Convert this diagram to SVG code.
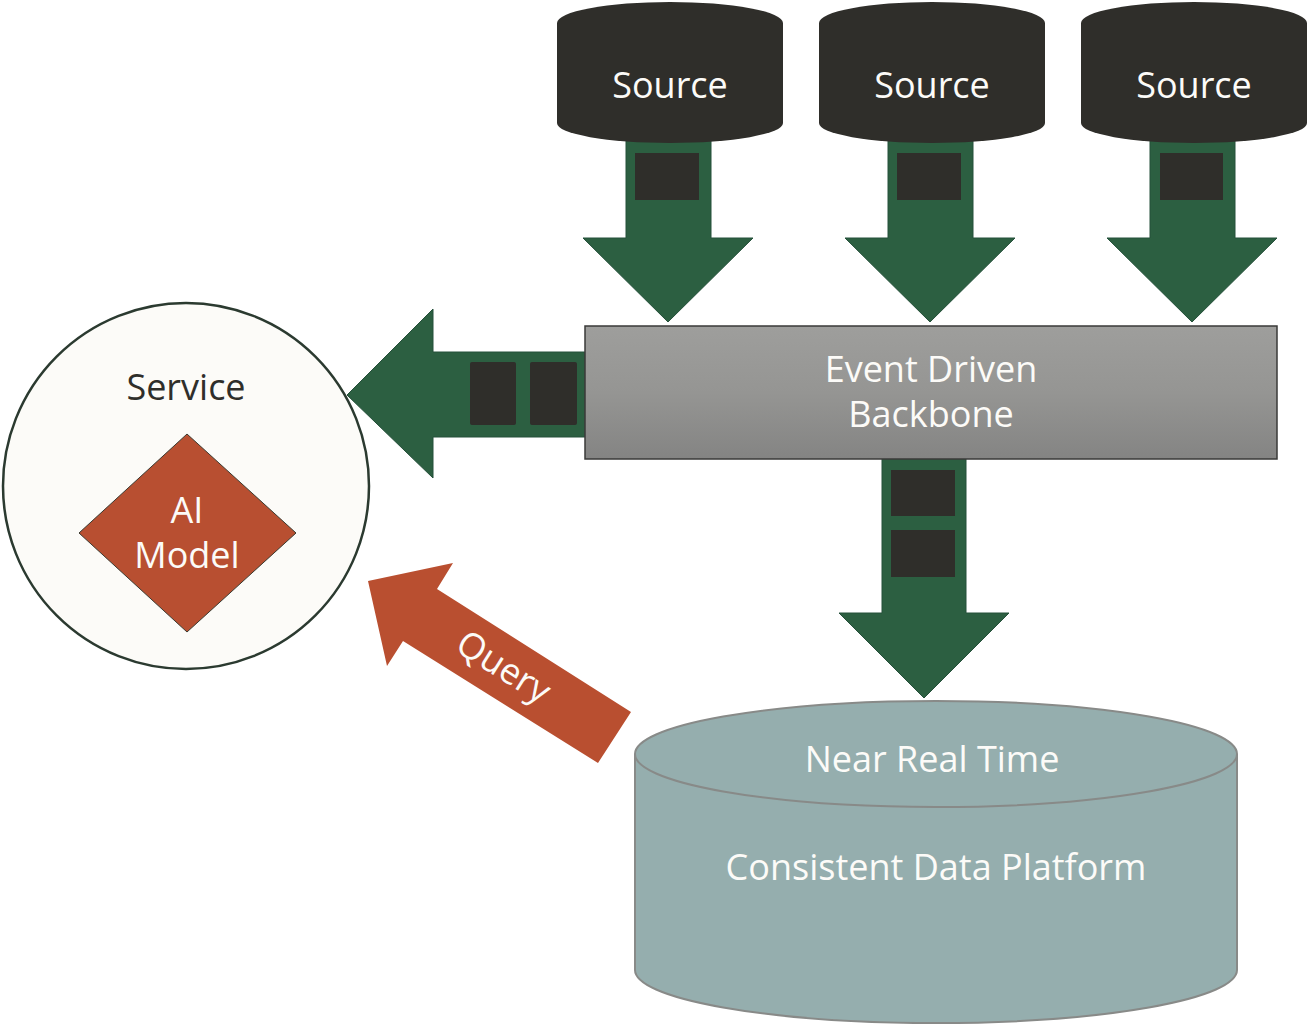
<svg xmlns="http://www.w3.org/2000/svg" width="1307" height="1024" viewBox="0 0 1307 1024">
  <style>
    .txt { font-family: "Open Sans", "Noto Sans", "Liberation Sans", sans-serif; font-size: 36px; text-anchor: middle; }
    .light { fill: #FCFBF8; }
    .dark { fill: #2F2E2A; }
    .arrow { fill: #2C5F41; stroke: #25503A; stroke-width: 1; }
    .pkt { fill: #2F2E2A; }
    .srcdb { fill: #2F2E2A; }
  </style>
  <defs>
    <linearGradient id="bbGrad" x1="0" y1="0" x2="0" y2="1">
      <stop offset="0" stop-color="#9E9E9C"/>
      <stop offset="0.5" stop-color="#959593"/>
      <stop offset="1" stop-color="#848483"/>
    </linearGradient>
  </defs>
  <rect width="1307" height="1024" fill="#FFFFFF"/>

  <g id="service">
    <circle cx="186" cy="486" r="183" fill="#FCFBF8" stroke="#2B3A30" stroke-width="2.5"/>
    <text class="txt dark" x="186" y="400">Service</text>
  </g>
  <g id="ai-model">
    <polygon points="187,434 296,533 187,632 79,533" fill="#B84F31" stroke="#3A3A30" stroke-width="1"/>
    <text class="txt light" x="187" y="523">AI</text>
    <text class="txt light" x="187" y="568">Model</text>
  </g>

  <g id="connectors">
    <g id="source1-to-backbone">
      <polygon class="arrow" points="626,5 711,5 711,238 753,238 668,322 583,238 626,238"/>
      <rect class="pkt" x="635" y="153" width="64" height="47"/>
    </g>
    <g id="source2-to-backbone">
      <polygon class="arrow" points="888,5 973,5 973,238 1015,238 930,322 845,238 888,238"/>
      <rect class="pkt" x="897" y="153" width="64" height="47"/>
    </g>
    <g id="source3-to-backbone">
      <polygon class="arrow" points="1150,5 1235,5 1235,238 1277,238 1192,322 1107,238 1150,238"/>
      <rect class="pkt" x="1160" y="153" width="63" height="47"/>
    </g>
    <g id="backbone-to-service">
      <polygon class="arrow" points="347,395 433,309 433,352 592,352 592,437 433,437 433,478"/>
      <rect class="pkt" x="470" y="362" width="46" height="63" rx="2"/>
      <rect class="pkt" x="530" y="362" width="47" height="63" rx="2"/>
    </g>
    <g id="backbone-to-platform">
      <polygon class="arrow" points="882,455 966,455 966,613 1009,613 924,698 839,613 882,613"/>
      <rect class="pkt" x="891" y="470" width="64" height="46"/>
      <rect class="pkt" x="891" y="530" width="64" height="47"/>
    </g>
    <g id="platform-to-service">
      <polygon points="368,581 453,563 437,589 631,712 598,763 403,641 387,666" fill="#B94F30"/>
      <text class="txt light" transform="translate(503,668) rotate(32.4)" x="0" y="11">Query</text>
    </g>
  </g>

  <g id="source1">
    <path class="srcdb" d="M557,23 A113,21 0 0 1 783,23 V123 A113,20 0 0 1 557,123 Z"/>
    <text class="txt light" x="670" y="98">Source</text>
  </g>
  <g id="source2">
    <path class="srcdb" d="M819,23 A113,21 0 0 1 1045,23 V123 A113,20 0 0 1 819,123 Z"/>
    <text class="txt light" x="932" y="98">Source</text>
  </g>
  <g id="source3">
    <path class="srcdb" d="M1081,23 A113,21 0 0 1 1307,23 V123 A113,20 0 0 1 1081,123 Z"/>
    <text class="txt light" x="1194" y="98">Source</text>
  </g>

  <g id="backbone">
    <rect x="585" y="326" width="692" height="133" fill="url(#bbGrad)" stroke="#3A3A38" stroke-width="1.5"/>
    <text class="txt light" x="931" y="382">Event Driven</text>
    <text class="txt light" x="931" y="427">Backbone</text>
  </g>

  <g id="data-platform">
    <path d="M635,754 A301,53 0 0 1 1237,754 V970 A301,53 0 0 1 635,970 Z" fill="#95AEAE" stroke="#888A88" stroke-width="2"/>
    <path d="M635,754 A301,53 0 0 0 1237,754" fill="none" stroke="#888A88" stroke-width="2"/>
    <text class="txt light" x="932" y="772">Near Real Time</text>
    <text class="txt light" x="936" y="880">Consistent Data Platform</text>
  </g>
</svg>
